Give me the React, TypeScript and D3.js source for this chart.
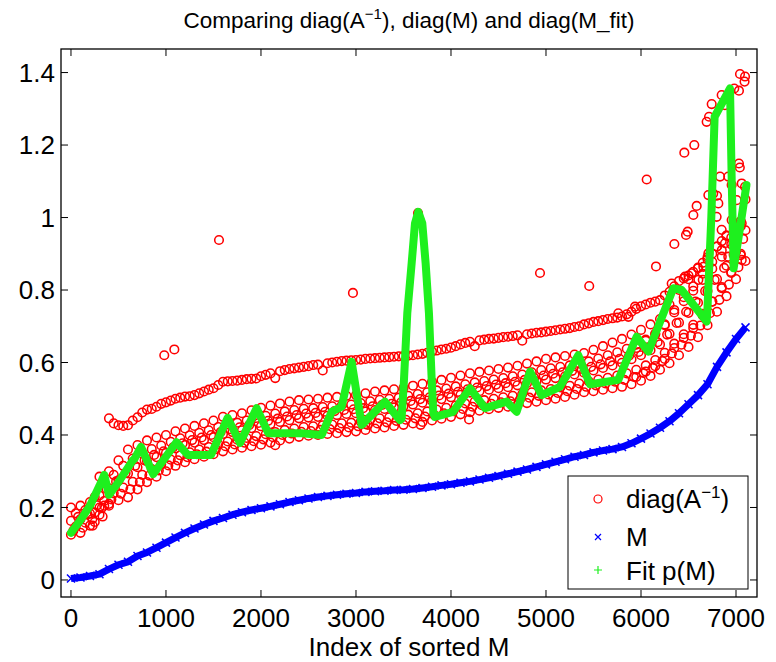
import React from "react";
import * as d3 from "d3";

const W = 776;
const H = 662;
const STEP = 100;

const xTicks = [0, 1000, 2000, 3000, 4000, 5000, 6000, 7000];
const yTicks = [0, 0.2, 0.4, 0.6, 0.8, 1, 1.2, 1.4];
const yTickLabels = ["0", "0.2", "0.4", "0.6", "0.8", "1", "1.2", "1.4"];

// diag(M), one value per 100 indices (i = 0 .. 7100)
const mValues = [
  0.004, 0.007, 0.011, 0.016, 0.03, 0.042, 0.05, 0.066, 0.076, 0.089,
  0.103, 0.117, 0.13, 0.142, 0.153, 0.163, 0.171, 0.18, 0.187, 0.193,
  0.198, 0.203, 0.209, 0.215, 0.22, 0.225, 0.229, 0.232, 0.235, 0.238,
  0.24, 0.243, 0.245, 0.246, 0.248, 0.249, 0.251, 0.254, 0.257, 0.261,
  0.264, 0.268, 0.272, 0.277, 0.282, 0.287, 0.293, 0.299, 0.305, 0.312,
  0.319, 0.326, 0.333, 0.34, 0.345, 0.352, 0.357, 0.361, 0.367, 0.377,
  0.39, 0.404, 0.42, 0.438, 0.46, 0.485, 0.51, 0.54, 0.588, 0.628,
  0.665, 0.697,
];

// diag(A^-1): main band, read as rows (i = 0 .. 7100)
const bandBottom = [
  0.125, 0.13, 0.15, 0.18, 0.205, 0.22, 0.228, 0.25, 0.27, 0.285,
  0.3, 0.315, 0.325, 0.333, 0.34, 0.347, 0.355, 0.36, 0.365, 0.369,
  0.373, 0.379, 0.385, 0.39, 0.395, 0.398, 0.4, 0.403, 0.405, 0.408,
  0.41, 0.414, 0.418, 0.421, 0.425, 0.428, 0.432, 0.436, 0.44, 0.445,
  0.45, 0.457, 0.463, 0.467, 0.471, 0.475, 0.478, 0.483, 0.488, 0.492,
  0.496, 0.5, 0.505, 0.511, 0.518, 0.521, 0.525, 0.529, 0.533, 0.54,
  0.55, 0.563, 0.58, 0.598, 0.62, 0.643, 0.67, 0.703, 0.74, 0.783,
  0.83, 0.88,
];
const bandMiddle = [
  0.163, 0.168, 0.183, 0.233, 0.253, 0.275, 0.294, 0.311, 0.328, 0.339,
  0.35, 0.363, 0.372, 0.379, 0.386, 0.394, 0.403, 0.408, 0.413, 0.419,
  0.424, 0.43, 0.436, 0.441, 0.446, 0.448, 0.45, 0.453, 0.455, 0.458,
  0.46, 0.465, 0.469, 0.472, 0.476, 0.479, 0.484, 0.489, 0.494, 0.499,
  0.504, 0.511, 0.517, 0.521, 0.525, 0.529, 0.532, 0.537, 0.543, 0.548,
  0.553, 0.557, 0.562, 0.567, 0.572, 0.578, 0.585, 0.592, 0.599, 0.609,
  0.62, 0.634, 0.65, 0.679, 0.71, 0.737, 0.765, 0.797, 0.83, 0.867,
  0.905, 0.965,
];
const bandTop = [
  0.2, 0.205, 0.215, 0.285, 0.3, 0.33, 0.36, 0.372, 0.385, 0.393,
  0.4, 0.41, 0.418, 0.425, 0.432, 0.44, 0.45, 0.455, 0.46, 0.468,
  0.475, 0.481, 0.487, 0.492, 0.496, 0.498, 0.5, 0.503, 0.505, 0.508,
  0.51, 0.515, 0.52, 0.523, 0.526, 0.53, 0.536, 0.541, 0.547, 0.552,
  0.558, 0.564, 0.57, 0.574, 0.578, 0.582, 0.586, 0.591, 0.597, 0.603,
  0.61, 0.614, 0.618, 0.622, 0.626, 0.635, 0.645, 0.655, 0.665, 0.677,
  0.69, 0.705, 0.72, 0.76, 0.8, 0.83, 0.86, 0.89, 0.92, 0.95,
  0.98, 1.05,
];
// staggered rows (i = 50 .. 7050)
const bandLowRow = [
  0.147, 0.158, 0.186, 0.218, 0.239, 0.255, 0.271, 0.29, 0.306, 0.319,
  0.332, 0.344, 0.352, 0.36, 0.367, 0.375, 0.382, 0.387, 0.392, 0.397,
  0.402, 0.408, 0.414, 0.418, 0.422, 0.424, 0.427, 0.429, 0.432, 0.434,
  0.437, 0.442, 0.446, 0.449, 0.452, 0.456, 0.46, 0.465, 0.47, 0.475,
  0.481, 0.487, 0.492, 0.496, 0.5, 0.504, 0.508, 0.513, 0.518, 0.523,
  0.527, 0.531, 0.536, 0.542, 0.548, 0.553, 0.558, 0.564, 0.57, 0.58,
  0.592, 0.607, 0.627, 0.652, 0.678, 0.704, 0.734, 0.768, 0.805, 0.847,
  0.896,
];
const bandHighRow = [
  0.184, 0.193, 0.229, 0.268, 0.29, 0.315, 0.335, 0.349, 0.361, 0.371,
  0.381, 0.391, 0.399, 0.406, 0.413, 0.422, 0.429, 0.434, 0.44, 0.447,
  0.453, 0.459, 0.465, 0.469, 0.472, 0.474, 0.477, 0.479, 0.482, 0.484,
  0.488, 0.493, 0.497, 0.5, 0.503, 0.508, 0.513, 0.518, 0.523, 0.528,
  0.534, 0.54, 0.545, 0.549, 0.553, 0.557, 0.562, 0.567, 0.573, 0.579,
  0.584, 0.588, 0.592, 0.597, 0.603, 0.611, 0.62, 0.628, 0.638, 0.649,
  0.663, 0.678, 0.703, 0.738, 0.769, 0.798, 0.828, 0.859, 0.892, 0.926,
  0.976,
];
// extra rows filling the band (i = 25 .. 7025 and i = 75 .. 7075)
const bandQuarterRow = [
  0.136, 0.144, 0.168, 0.199, 0.222, 0.238, 0.25, 0.27, 0.288, 0.302,
  0.316, 0.33, 0.339, 0.347, 0.354, 0.361, 0.369, 0.374, 0.379, 0.383,
  0.388, 0.394, 0.4, 0.404, 0.409, 0.411, 0.414, 0.416, 0.419, 0.421,
  0.424, 0.428, 0.432, 0.435, 0.439, 0.442, 0.446, 0.451, 0.455, 0.46,
  0.466, 0.472, 0.478, 0.482, 0.486, 0.49, 0.493, 0.498, 0.503, 0.508,
  0.512, 0.516, 0.521, 0.527, 0.533, 0.537, 0.542, 0.547, 0.552, 0.56,
  0.571, 0.585, 0.604, 0.625, 0.649, 0.674, 0.702, 0.736, 0.773, 0.815,
  0.863,
];
const bandUpperRow = [
  0.174, 0.181, 0.206, 0.251, 0.272, 0.295, 0.315, 0.33, 0.345, 0.355,
  0.366, 0.377, 0.386, 0.393, 0.4, 0.408, 0.416, 0.421, 0.427, 0.433,
  0.439, 0.445, 0.451, 0.455, 0.459, 0.461, 0.464, 0.466, 0.469, 0.471,
  0.474, 0.479, 0.483, 0.486, 0.49, 0.494, 0.499, 0.504, 0.509, 0.514,
  0.519, 0.526, 0.531, 0.535, 0.539, 0.543, 0.547, 0.552, 0.558, 0.564,
  0.569, 0.573, 0.577, 0.582, 0.588, 0.595, 0.603, 0.61, 0.619, 0.629,
  0.642, 0.656, 0.677, 0.709, 0.74, 0.768, 0.797, 0.828, 0.861, 0.897,
  0.941,
];
// wide fan at the right end (i = 5950 .. 7050)
const fanLow = [0.56, 0.575, 0.59, 0.61, 0.64, 0.668, 0.695, 0.73, 0.768, 0.808, 0.85, 0.9];
const fanHigh = [0.64, 0.66, 0.68, 0.705, 0.745, 0.78, 0.81, 0.845, 0.878, 0.91, 0.945, 0.99];

// upper sparse band (i = 400 .. 6900) and its staggered twin (i = 450 .. 6850)
const upperBand = [
  0.446, 0.427, 0.427, 0.449, 0.47, 0.478, 0.49, 0.5, 0.506, 0.51,
  0.52, 0.529, 0.547, 0.549, 0.552, 0.555, 0.562, 0.57, 0.576, 0.582,
  0.586, 0.59, 0.594, 0.598, 0.602, 0.605, 0.607, 0.61, 0.612, 0.614,
  0.616, 0.618, 0.62, 0.624, 0.63, 0.636, 0.641, 0.65, 0.657, 0.661,
  0.665, 0.668, 0.671, 0.675, 0.678, 0.682, 0.685, 0.689, 0.693, 0.698,
  0.705, 0.712, 0.717, 0.722, 0.727, 0.74, 0.755, 0.765, 0.772, 0.795,
  0.825, 0.84, 0.862, 0.885, 0.92, 0.95,
];
const upperBand2 = [
  0.432, 0.425, 0.44, 0.462, 0.472, 0.486, 0.495, 0.503, 0.507, 0.515,
  0.525, 0.538, 0.548, 0.55, 0.554, 0.556, 0.566, 0.557, 0.579, 0.584,
  0.588, 0.593, 0.578, 0.6, 0.604, 0.606, 0.608, 0.611, 0.613, 0.615,
  0.617, 0.619, 0.622, 0.627, 0.633, 0.638, 0.645, 0.654, 0.645, 0.663,
  0.666, 0.67, 0.673, 0.66, 0.68, 0.683, 0.687, 0.691, 0.695, 0.7,
  0.708, 0.714, 0.72, 0.724, 0.733, 0.748, 0.76, 0.768, 0.785, 0.81,
  0.832, 0.85, 0.875, 0.9, 0.935,
];

// isolated circles [index, value]
const redExtra: [number, number][] = [
  [228, 0.15], [250, 0.16], [333, 0.175], [300, 0.2], [350, 0.205], [400, 0.21],
  [982, 0.62], [1088, 0.636], [1558, 0.938], [2968, 0.792], [3653, 1.012],
  [4937, 0.847], [5455, 0.811], [6060, 1.105], [6158, 0.865], [6351, 0.927],
  [6474, 0.952], [6491, 0.961], [6551, 1.007], [6586, 1.032], [6456, 1.179],
  [6561, 1.2], [6691, 1.264], [6716, 1.278], [6744, 1.313], [6849, 1.338],
  [6884, 1.31], [6982, 1.356], [7031, 1.35], [7042, 1.396], [7095, 1.389],
  [7090, 1.375], [7031, 1.149], [7040, 1.138], [6832, 1.113], [6919, 1.113],
  [6954, 1.09], [7060, 1.094], [6760, 1.066], [6800, 1.06], [6709, 1.062],
  [7095, 1.085], [7007, 1.048], [6814, 1.039], [6954, 0.993], [7060, 0.984],
  [6989, 0.938], [6884, 0.929], [7060, 0.883], [6919, 0.892], [6849, 0.966],
  [6796, 1.002], [6656, 0.864], [6709, 0.901], [6604, 0.828], [6463, 0.837],
  [6533, 0.846], [6323, 0.818], [5937, 0.754], [5867, 0.726], [5761, 0.736],
  [3680, 0.428], [4190, 0.443], [2150, 0.372], [3100, 0.43],
];

// Fit p(M) [index, value]
const fitPoints: [number, number][] = [
  [0, 0.13], [100, 0.165], [200, 0.205], [300, 0.26], [350, 0.29], [400, 0.235],
  [500, 0.27], [600, 0.31], [650, 0.33], [670, 0.335], [737, 0.367], [865, 0.292],
  [1110, 0.38], [1230, 0.345], [1474, 0.345], [1649, 0.447], [1779, 0.378],
  [1954, 0.474], [2077, 0.405], [2428, 0.405], [2639, 0.4], [2744, 0.464],
  [2849, 0.478], [2954, 0.602], [3060, 0.428], [3305, 0.492], [3463, 0.441],
  [3480, 0.445], [3505, 0.552], [3540, 0.736], [3586, 0.874], [3621, 0.984],
  [3656, 1.016], [3698, 0.984], [3733, 0.874], [3768, 0.736], [3797, 0.552],
  [3814, 0.46], [3830, 0.45], [4021, 0.464], [4200, 0.529], [4358, 0.474],
  [4586, 0.492], [4691, 0.464], [4832, 0.575], [4954, 0.51], [5147, 0.533],
  [5340, 0.62], [5463, 0.54], [5761, 0.552], [5954, 0.671], [6077, 0.63],
  [6340, 0.805], [6428, 0.8], [6691, 0.713], [6700, 0.75], [6740, 1.0],
  [6775, 1.278], [6937, 1.356], [6955, 1.1], [6975, 0.86], [7030, 0.95],
  [7110, 1.09],
];

const series = (vals: number[], start: number): [number, number][] =>
  vals.map((v, k) => [start + k * STEP, v]);

const redPoints: [number, number][] = [
  ...series(bandBottom, 0),
  ...series(bandQuarterRow, 25),
  ...series(bandLowRow, 50),
  ...series(bandMiddle, 0),
  ...series(bandUpperRow, 75),
  ...series(bandHighRow, 50),
  ...series(bandTop, 0),
  ...series(fanLow, 5950),
  ...series(fanHigh, 5950),
  ...series(upperBand, 400),
  ...series(upperBand2, 450),
  ...redExtra,
];
const mPoints = series(mValues, 0);

const FONT = "'Liberation Sans', Arial, Helvetica, sans-serif";
const RED = "#ff0000";
const BLUE = "#0000ff";
const GREEN = "#1ef01e";

export default function App() {
  const left = 61, right = 757, top = 49, bottom = 597;
  const x = d3.scaleLinear().domain([-105, 7221]).range([left, right]);
  const y = d3.scaleLinear().domain([-0.047, 1.465]).range([bottom, top]);
  const line = d3.line<[number, number]>().x(d => x(d[0])).y(d => y(d[1]));
  const tick = 7;
  const xs = 4;

  return (
    <svg width={W} height={H} style={{ position: "absolute", left: 0, top: 0, background: "#fff" }}
      fontFamily={FONT}>
      <defs>
        <clipPath id="plot-area">
          <rect x={left} y={top} width={right - left} height={bottom - top} />
        </clipPath>
      </defs>
      <rect x={0} y={0} width={W} height={H} fill="#fff" />

      <text x={(left + right) / 2} y={28} textAnchor="middle" fontSize={22.5}>
        Comparing diag(A<tspan fontSize={15} dy={-9}>−1</tspan><tspan dy={9}>), diag(M) and diag(M_fit)</tspan>
      </text>

      <g clipPath="url(#plot-area)">
        <g fill="none" stroke={RED} strokeWidth={1.55}>
          {redPoints.map((d, k) => (
            <circle key={k} cx={x(d[0])} cy={y(d[1])} r={4.3} />
          ))}
        </g>
        <path d={line(mPoints) ?? ""} fill="none" stroke={BLUE} strokeWidth={7} strokeLinejoin="round" />
        <g stroke={BLUE} strokeWidth={1.5}>
          {mPoints.map((d, k) => {
            const cx = x(d[0]), cy = y(d[1]);
            return (
              <path key={k} d={`M${cx - xs},${cy - xs}L${cx + xs},${cy + xs}M${cx - xs},${cy + xs}L${cx + xs},${cy - xs}`} />
            );
          })}
        </g>
        <path d={line(fitPoints) ?? ""} fill="none" stroke={GREEN} strokeWidth={8} strokeLinejoin="round" strokeLinecap="round" />
      </g>

      <rect x={left} y={top} width={right - left} height={bottom - top} fill="none" stroke="#000" strokeWidth={1.3} />
      <g stroke="#000" strokeWidth={1}>
        {xTicks.map(t => (
          <g key={t}>
            <line x1={x(t)} x2={x(t)} y1={bottom} y2={bottom - tick} />
            <line x1={x(t)} x2={x(t)} y1={top} y2={top + tick} />
          </g>
        ))}
        {yTicks.map(t => (
          <g key={t}>
            <line x1={left} x2={left + tick} y1={y(t)} y2={y(t)} />
            <line x1={right} x2={right - tick} y1={y(t)} y2={y(t)} />
          </g>
        ))}
      </g>
      <g fontSize={26} fill="#000">
        {xTicks.map(t => (
          <text key={t} x={x(t)} y={627} textAnchor="middle">{t}</text>
        ))}
        {yTicks.map((t, k) => (
          <text key={t} x={55} y={y(t)} dy="0.35em" textAnchor="end">{yTickLabels[k]}</text>
        ))}
        <text x={(left + right) / 2} y={656} textAnchor="middle">Index of sorted M</text>
      </g>

      <g>
        <rect x={568} y={476} width={180} height={113} fill="#fff" stroke="#000" strokeWidth={1} />
        <circle cx={598} cy={499} r={4} fill="none" stroke={RED} strokeWidth={1.2} />
        <path d={`M${598 - 3},${537 - 3}L${598 + 3},${537 + 3}M${598 - 3},${537 + 3}L${598 + 3},${537 - 3}`} stroke={BLUE} strokeWidth={1.2} />
        <path d={`M${598 - 4},570L${598 + 4},570M598,${570 - 4}L598,${570 + 4}`} stroke={GREEN} strokeWidth={1.2} />
        <g fontSize={26} fill="#000">
          <text x={626} y={508}>diag(A<tspan fontSize={17} dy={-10}>−1</tspan><tspan dy={10}>)</tspan></text>
          <text x={626} y={546}>M</text>
          <text x={626} y={580}>Fit p(M)</text>
        </g>
      </g>
    </svg>
  );
}
